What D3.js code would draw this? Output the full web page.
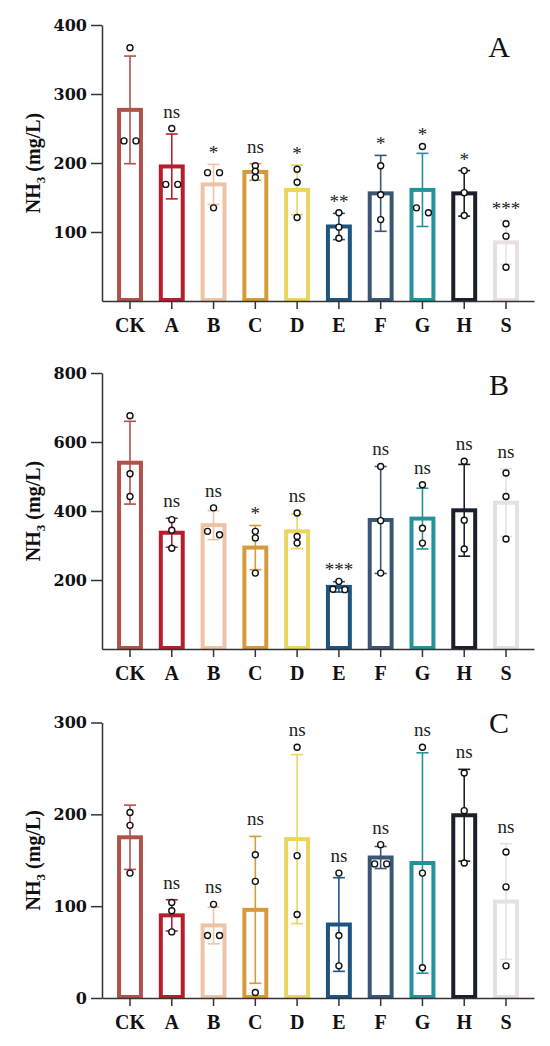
<!DOCTYPE html>
<html>
<head>
<meta charset="utf-8">
<script src="https://cdn.jsdelivr.net/npm/d3@7"></script>
<style>
body { margin: 0; background: #fff; }
</style>
</head>
<body>
<div id="chart-area"></div>
<script>
// treatments, shared by all three panels
const categories = ["CK", "A", "B", "C", "D", "E", "F", "G", "H", "S"];
const colors = ["#b0524c", "#b51f2c", "#efc3a6", "#d69a3a", "#ead55e",
	"#1d5580", "#3b5675", "#23939b", "#19202b", "#e6e1df"];

// panel A
const meanA = [277, 195, 169, 187, 161, 108, 156, 161, 156, 85];
const sdA = [78, 47, 29, 12, 36, 19, 55, 53, 33, 32];
const ptsA = [[367, 232, 232], [250, 169, 169], [186, 186, 135], [196, 179, 188], [191, 172, 121],
	[128, 107, 91], [196, 118, 154], [224, 128, 135], [189, 157, 124], [112, 94, 49]];
const sigA = ["", "ns", "*", "ns", "*", "**", "*", "*", "*", "***"];
const ticksA = [100, 200, 300, 400];

// panel B
const meanB = [540, 337, 359, 294, 341, 180, 374, 378, 402, 424];
const sdB = [120, 42, 42, 64, 50, 15, 155, 88, 133, 98];
const ptsB = [[676, 508, 442], [375, 344, 292], [409, 331, 341], [341, 322, 220], [394, 326, 307],
	[196, 172, 173], [529, 372, 220], [476, 350, 307], [544, 373, 290], [510, 442, 319]];
const sigB = ["", "ns", "ns", "*", "ns", "***", "ns", "ns", "ns", "ns"];
const ticksB = [200, 400, 600, 800];

// panel C
const meanC = [175, 90, 79, 96, 173, 80, 153, 147, 199, 105];
const sdC = [35, 17, 20, 80, 92, 51, 12, 120, 50, 63];
const ptsC = [[202, 188, 136], [104, 95, 72], [102, 68, 68], [156, 127, 6], [273, 155, 91],
	[136, 68, 35], [167, 146, 146], [273, 136, 33], [245, 204, 147], [159, 121, 35]];
const sigC = ["", "ns", "ns", "ns", "ns", "ns", "ns", "ns", "ns", "ns"];
const ticksC = [0, 100, 200, 300];

const panels = [
	{ letter: "A", mean: meanA, sd: sdA, pts: ptsA, sig: sigA, ticks: ticksA, max: 400, top: 25, bottom: 301, letterY: 57 },
	{ letter: "B", mean: meanB, sd: sdB, pts: ptsB, sig: sigB, ticks: ticksB, max: 800, top: 373, bottom: 649, letterY: 395 },
	{ letter: "C", mean: meanC, sd: sdC, pts: ptsC, sig: sigC, ticks: ticksC, max: 300, top: 722.5, bottom: 998, letterY: 733 }
];

let svg = d3.select("#chart-area").append("svg")
	.attr("width", 550)
	.attr("height", 1046)

let x = d3.scaleBand()
	.domain(categories)
	.range([102, 534])
	.paddingInner(0.38)
	.paddingOuter(0.36);

const bw = x.bandwidth();
const cx = function(c) { return x(c) + bw / 2 };

panels.forEach(function(p) {
	let g = svg.append("g");
	let y = d3.scaleLinear().domain([0, p.max]).range([p.bottom, p.top]);

	let rows = categories.map(function(c, i) {
		return { cat: c, color: colors[i], mean: p.mean[i], sd: p.sd[i], pts: p.pts[i], sig: p.sig[i] };
	});

	// bars (hollow)
	g.selectAll("rect.bar").data(rows).enter().append("rect")
		.attr("class", "bar")
		.attr("x", function(d) { return x(d.cat) + 2 })
		.attr("width", bw - 4)
		.attr("y", function(d) { return y(d.mean) })
		.attr("height", function(d) { return p.bottom - y(d.mean) - 1 })
		.attr("fill", "#fff")
		.attr("stroke", function(d) { return d.color })
		.attr("stroke-width", 4);

	// error bars
	let err = g.selectAll("g.err").data(rows).enter().append("g")
		.attr("class", "err")
		.attr("stroke", function(d) { return d.color })
		.attr("stroke-width", 1.6);
	err.append("line")
		.attr("x1", function(d) { return cx(d.cat) })
		.attr("x2", function(d) { return cx(d.cat) })
		.attr("y1", function(d) { return y(d.mean + d.sd) })
		.attr("y2", function(d) { return y(Math.max(0, d.mean - d.sd)) });
	err.append("line")
		.attr("x1", function(d) { return cx(d.cat) - 6 })
		.attr("x2", function(d) { return cx(d.cat) + 6 })
		.attr("y1", function(d) { return y(d.mean + d.sd) })
		.attr("y2", function(d) { return y(d.mean + d.sd) });
	err.append("line")
		.attr("x1", function(d) { return cx(d.cat) - 6 })
		.attr("x2", function(d) { return cx(d.cat) + 6 })
		.attr("y1", function(d) { return y(Math.max(0, d.mean - d.sd)) })
		.attr("y2", function(d) { return y(Math.max(0, d.mean - d.sd)) });

	// replicate points, points that nearly overlap go side by side
	let dots = [];
	rows.forEach(function(d) {
		let s = d.pts.map(function(v) { return { cat: d.cat, v: v, py: y(v), dx: 0 } })
			.sort(function(a, b) { return a.py - b.py });
		let groups = [[s[0]]];
		for (let k = 1; k < s.length; k++) {
			let last = groups[groups.length - 1];
			if (s[k].py - last[last.length - 1].py < 5.5) last.push(s[k]);
			else groups.push([s[k]]);
		}
		groups.forEach(function(gr) {
			if (gr.length == 2) { gr[0].dx = -6; gr[1].dx = 6; }
			if (gr.length == 3) { gr[0].dx = -7; gr[1].dx = 0; gr[2].dx = 7; }
		});
		dots = dots.concat(s);
	});
	g.selectAll("circle").data(dots).enter().append("circle")
		.attr("cx", function(d) { return cx(d.cat) + d.dx })
		.attr("cy", function(d) { return d.py })
		.attr("r", 3)
		.attr("fill", "#fff")
		.attr("stroke", "#111")
		.attr("stroke-width", 1.4);

	// significance marks
	g.selectAll("text.sig").data(rows.filter(function(d) { return d.sig != "" })).enter().append("text")
		.attr("class", "sig")
		.attr("x", function(d) { return cx(d.cat) })
		.attr("y", function(d) {
			let top = Math.min(y(d.mean + d.sd), y(d3.max(d.pts)));
			return d.sig == "ns" ? top - 11 : top - 5;
		})
		.attr("text-anchor", "middle")
		.attr("font-family", "Liberation Serif, serif")
		.attr("font-size", 19)
		.attr("fill", "#222")
		.text(function(d) { return d.sig });

	// axes
	let yAxis = g.append("g")
		.attr("transform", "translate(102,0)")
		.call(d3.axisLeft(y).tickValues(p.ticks).tickSize(11).tickSizeOuter(0).tickPadding(4));
	yAxis.selectAll("text")
		.attr("font-family", "DejaVu Serif, serif")
		.attr("font-weight", "bold")
		.attr("font-size", 16)
		.attr("fill", "#111");

	let xAxis = g.append("g")
		.attr("transform", "translate(0," + p.bottom + ")")
		.call(d3.axisBottom(x).tickSize(8).tickSizeOuter(0));
	xAxis.selectAll("text")
		.attr("y", 31)
		.attr("dy", 0)
		.attr("font-family", "Liberation Serif, serif")
		.attr("font-weight", "bold")
		.attr("font-size", 20)
		.attr("fill", "#111");

	g.selectAll(".domain, .tick line")
		.attr("stroke", "#333")
		.attr("stroke-width", 1.5);

	// y label
	let lab = g.append("text")
		.attr("transform", "translate(40," + ((p.top + p.bottom) / 2) + ") rotate(-90)")
		.attr("text-anchor", "middle")
		.attr("font-family", "Liberation Serif, serif")
		.attr("font-weight", "bold")
		.attr("font-size", 20)
		.attr("fill", "#111");
	lab.append("tspan").text("NH");
	lab.append("tspan").attr("font-size", 13).attr("dy", 5).text("3");
	lab.append("tspan").attr("dy", -5).text(" (mg/L)");

	// panel letter
	g.append("text")
		.attr("x", 499)
		.attr("y", p.letterY)
		.attr("text-anchor", "middle")
		.attr("font-family", "Liberation Serif, serif")
		.attr("font-size", 30)
		.attr("fill", "#111")
		.text(p.letter);
});
</script>
</body>
</html>
